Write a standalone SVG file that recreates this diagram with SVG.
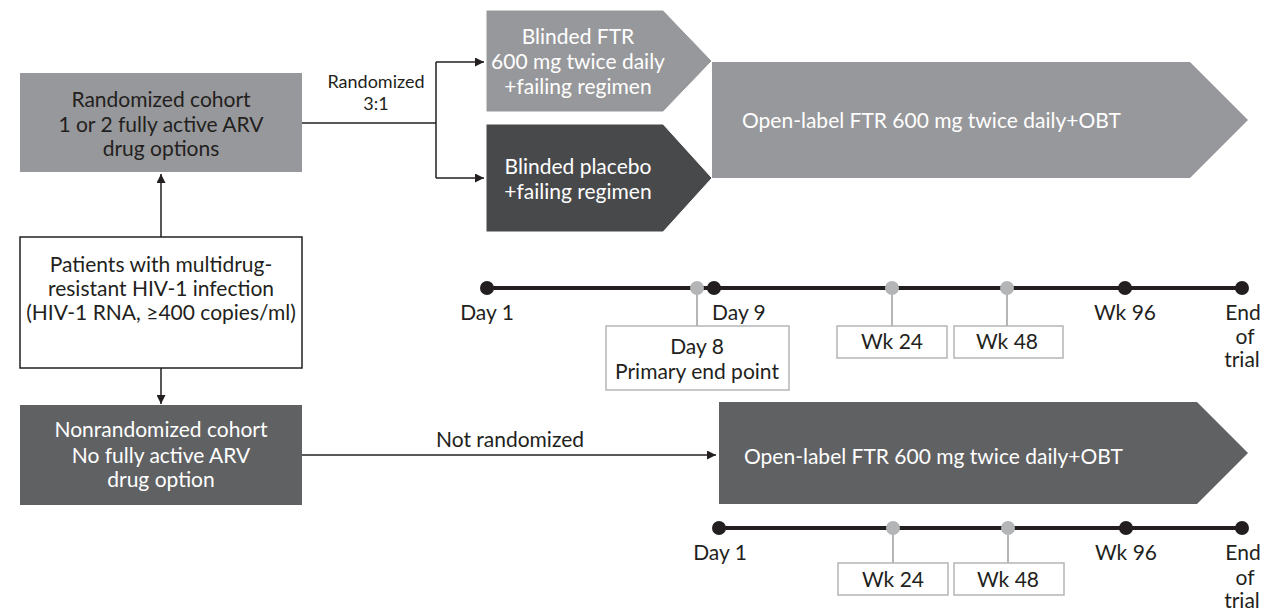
<svg xmlns="http://www.w3.org/2000/svg" width="1262" height="611" viewBox="0 0 1262 611">
<defs>
<marker id="ah" viewBox="0 0 10 10" refX="10" refY="5" markerWidth="12" markerHeight="9" markerUnits="userSpaceOnUse" orient="auto"><path d="M0,0 L10,5 L0,10 z" fill="#231f20"/></marker>
<style>
text{font-family:Lato,"Noto Sans","Liberation Sans",sans-serif;font-size:21px;text-anchor:middle;fill:#231f20}
.w{fill:#ffffff}
.l{fill:#97989b}
.d{fill:#606163}
.p{fill:#48494b}
.tl{stroke:#231f20;stroke-width:4;fill:none}
.bd{fill:#231f20}
.gd{fill:#b4b5b7}
.stem{stroke:#b4b5b7;stroke-width:2;fill:none}
.gb{fill:#ffffff;stroke:#b4b5b7;stroke-width:1.5}
.c{stroke:#231f20;stroke-width:1.5;fill:none}
.s{font-size:18px}
.lt{text-anchor:start}
</style>
</defs>
<rect width="1262" height="611" fill="#ffffff"/>

<g id="connectors">
<path class="c" d="M161,237 L161,174" marker-end="url(#ah)"/>
<path class="c" d="M161,368 L161,404" marker-end="url(#ah)"/>
<path class="c" d="M302,123 L436,123"/>
<path class="c" d="M436,62 L436,178"/>
<path class="c" d="M436,62 L484,62" marker-end="url(#ah)"/>
<path class="c" d="M436,178 L484,178" marker-end="url(#ah)"/>
<path class="c" d="M302,455 L716,455" marker-end="url(#ah)"/>
<text class="s" x="376" y="88">Randomized</text>
<text class="s" x="376" y="110">3:1</text>
<text x="510" y="447">Not randomized</text>
</g>

<g id="randomized-cohort">
<rect class="l" x="20" y="73" width="282" height="99"/>
<text x="161" y="107">Randomized cohort</text>
<text x="161" y="132">1 or 2 fully active ARV</text>
<text x="161" y="156">drug options</text>
</g>

<g id="patients">
<rect x="20" y="237" width="282" height="131" fill="#ffffff" stroke="#231f20" stroke-width="1.5"/>
<text x="161" y="272">Patients with multidrug-</text>
<text x="161" y="296">resistant HIV-1 infection</text>
<text x="161" y="320">(HIV-1 RNA, ≥400 copies/ml)</text>
</g>

<g id="nonrandomized-cohort">
<rect class="d" x="20" y="405" width="282" height="100"/>
<text class="w" x="161" y="437">Nonrandomized cohort</text>
<text class="w" x="161" y="463">No fully active ARV</text>
<text class="w" x="161" y="487">drug option</text>
</g>

<g id="open-label-top">
<path class="l" d="M712,62 L1190,62 L1248,120 L1190,178 L712,178 z"/>
<text class="w lt" x="742" y="128">Open-label FTR 600 mg twice daily+OBT</text>
</g>

<g id="blinded-ftr">
<path class="l" d="M486,10 L663,10 L712,61 L663,112 L486,112 z" stroke="#ffffff" stroke-width="1"/>
<text class="w" x="578" y="44">Blinded FTR</text>
<text class="w" x="578" y="69">600 mg twice daily</text>
<text class="w" x="578" y="94">+failing regimen</text>
</g>

<g id="blinded-placebo">
<path class="p" d="M486,124 L663,124 L712,178 L663,232 L486,232 z" stroke="#ffffff" stroke-width="1"/>
<text class="w" x="578" y="174">Blinded placebo</text>
<text class="w" x="578" y="199">+failing regimen</text>
</g>

<g id="timeline-top">
<line class="tl" x1="487" y1="288" x2="1242" y2="288"/>
<line class="stem" x1="697" y1="288" x2="697" y2="326"/>
<line class="stem" x1="892" y1="288" x2="892" y2="326"/>
<line class="stem" x1="1007" y1="288" x2="1007" y2="326"/>
<circle class="bd" cx="487" cy="288" r="7"/>
<circle class="gd" cx="697" cy="288" r="7"/>
<circle class="bd" cx="714" cy="288" r="7"/>
<circle class="gd" cx="892" cy="288" r="7"/>
<circle class="gd" cx="1007" cy="288" r="7"/>
<circle class="bd" cx="1125" cy="288" r="7"/>
<circle class="bd" cx="1242" cy="288" r="7"/>
<text x="487" y="320">Day 1</text>
<text class="lt" x="712" y="320">Day 9</text>
<text x="1125" y="320">Wk 96</text>
<text x="1243" y="320">End</text>
<text x="1245" y="344">of</text>
<text x="1242" y="367">trial</text>
<rect class="gb" x="606" y="326" width="183" height="64"/>
<text x="697" y="354">Day 8</text>
<text x="697" y="379">Primary end point</text>
<rect class="gb" x="837" y="326" width="110" height="32"/>
<text x="892" y="349">Wk 24</text>
<rect class="gb" x="954" y="326" width="109" height="32"/>
<text x="1007" y="349">Wk 48</text>
</g>

<g id="open-label-bottom">
<path class="d" d="M719,402 L1197,402 L1248,453 L1197,504 L719,504 z"/>
<text class="w lt" x="744" y="464">Open-label FTR 600 mg twice daily+OBT</text>
</g>

<g id="timeline-bottom">
<line class="tl" x1="719" y1="528" x2="1242" y2="528"/>
<line class="stem" x1="893" y1="528" x2="893" y2="563"/>
<line class="stem" x1="1008" y1="528" x2="1008" y2="563"/>
<circle class="bd" cx="719" cy="528" r="7"/>
<circle class="gd" cx="893" cy="528" r="7"/>
<circle class="gd" cx="1008" cy="528" r="7"/>
<circle class="bd" cx="1126" cy="528" r="7"/>
<circle class="bd" cx="1242" cy="528" r="7"/>
<text x="720" y="560">Day 1</text>
<text x="1126" y="560">Wk 96</text>
<text x="1243" y="560">End</text>
<text x="1245" y="585">of</text>
<text x="1242" y="608">trial</text>
<rect class="gb" x="838" y="563" width="110" height="32"/>
<text x="893" y="587">Wk 24</text>
<rect class="gb" x="954" y="563" width="110" height="32"/>
<text x="1008" y="587">Wk 48</text>
</g>
</svg>
